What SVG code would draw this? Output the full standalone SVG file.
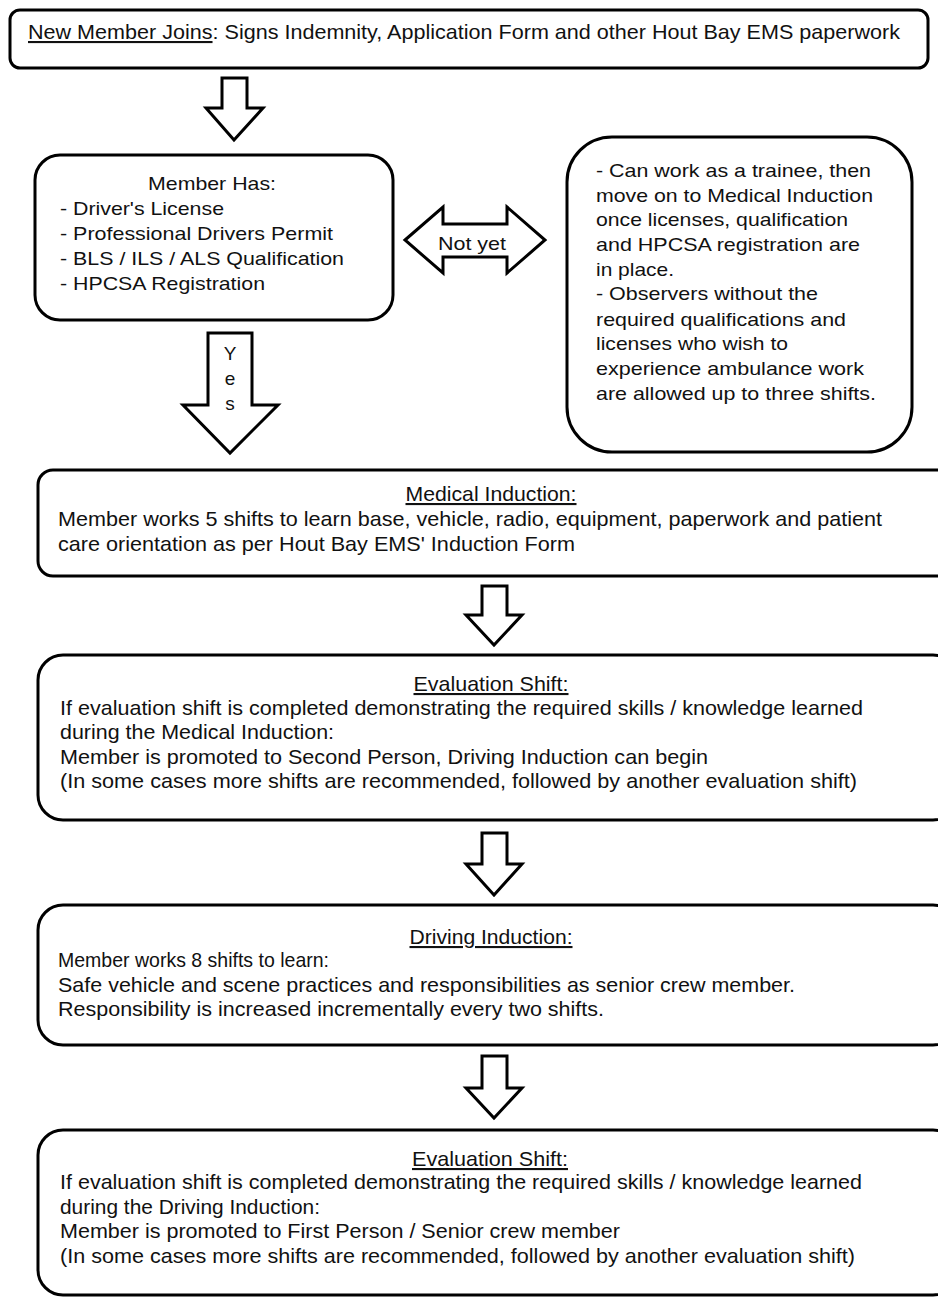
<svg xmlns="http://www.w3.org/2000/svg" width="938" height="1298" viewBox="0 0 938 1298">
<style>
.box{fill:#fff;stroke:#000;stroke-width:3}
.arr{fill:#fff;stroke:#000;stroke-width:3;stroke-linejoin:miter}
text{font-family:"Liberation Sans",Arial,sans-serif;font-size:19px;fill:#111}
.n{font-size:21px}
.u{text-decoration:underline}
</style>
<rect width="938" height="1298" fill="#fff"/>
<g id="connectors">
<polygon class="arr" points="222,78 247,78 247,108 263,108 234,140 206,108 222,108"/>
<polygon class="arr" points="405,240 443,207 443,224 507,224 507,207 545,240 507,273 507,257 443,257 443,273"/>
<text x="472" y="250" text-anchor="middle" textLength="68" lengthAdjust="spacingAndGlyphs">Not yet</text>
<polygon class="arr" points="208,333 252,333 252,405 278,405 230,453 183,405 208,405"/>
<text x="230" y="360" text-anchor="middle">Y</text>
<text x="230" y="385" text-anchor="middle">e</text>
<text x="230" y="410" text-anchor="middle">s</text>
<polygon class="arr" points="482,586 507,586 507,615 522,615 494,645 466,615 482,615"/>
<polygon class="arr" points="482,833 507,833 507,864 522,864 494,895 466,864 482,864"/>
<polygon class="arr" points="482,1056 507,1056 507,1088 522,1088 494,1118 466,1088 482,1088"/>
</g>
<g id="n1">
<rect class="box" x="10" y="10" width="918" height="58" rx="10"/>
<text class="n" x="28" y="39" textLength="872" lengthAdjust="spacingAndGlyphs"><tspan class="u">New Member Joins</tspan>: Signs Indemnity, Application Form and other Hout Bay EMS paperwork</text>
</g>
<g id="n2">
<rect class="box" x="35" y="155" width="358" height="165" rx="25"/>
<text x="212" y="190" text-anchor="middle" textLength="128" lengthAdjust="spacingAndGlyphs">Member Has:</text>
<text x="60" y="215" textLength="164" lengthAdjust="spacingAndGlyphs">- Driver's  License</text>
<text x="60" y="240" textLength="273" lengthAdjust="spacingAndGlyphs">- Professional  Drivers  Permit</text>
<text x="60" y="265" textLength="284" lengthAdjust="spacingAndGlyphs">- BLS / ILS / ALS Qualification</text>
<text x="60" y="290" textLength="205" lengthAdjust="spacingAndGlyphs">- HPCSA Registration</text>
</g>
<g id="n3">
<rect class="box" x="567" y="137" width="345" height="315" rx="45"/>
<text x="596" y="177" textLength="275" lengthAdjust="spacingAndGlyphs">- Can work as a trainee, then</text>
<text x="596" y="202" textLength="277" lengthAdjust="spacingAndGlyphs">move  on to Medical Induction</text>
<text x="596" y="226" textLength="252" lengthAdjust="spacingAndGlyphs">once licenses, qualification</text>
<text x="596" y="251" textLength="264" lengthAdjust="spacingAndGlyphs">and HPCSA registration are</text>
<text x="596" y="276" textLength="78" lengthAdjust="spacingAndGlyphs">in place.</text>
<text x="596" y="300" textLength="222" lengthAdjust="spacingAndGlyphs">- Observers  without the</text>
<text x="596" y="326" textLength="250" lengthAdjust="spacingAndGlyphs">required  qualifications and</text>
<text x="596" y="350" textLength="192" lengthAdjust="spacingAndGlyphs">licenses who wish to</text>
<text x="596" y="375" textLength="268" lengthAdjust="spacingAndGlyphs">experience  ambulance  work</text>
<text x="596" y="400" textLength="280" lengthAdjust="spacingAndGlyphs">are allowed  up to three shifts.</text>
</g>
<g id="n4">
<rect class="box" x="38" y="470" width="920" height="106" rx="15"/>
<text x="491" y="501" text-anchor="middle" class="n u" textLength="171" lengthAdjust="spacingAndGlyphs">Medical Induction:</text>
<text class="n" x="58" y="526" textLength="824" lengthAdjust="spacingAndGlyphs">Member works 5 shifts to learn base, vehicle, radio, equipment, paperwork and patient</text>
<text class="n" x="58" y="551" textLength="517" lengthAdjust="spacingAndGlyphs">care orientation as per Hout Bay EMS' Induction Form</text>
</g>
<g id="n5">
<rect class="box" x="38" y="655" width="920" height="165" rx="25"/>
<text x="491" y="691" text-anchor="middle" class="n u" textLength="155" lengthAdjust="spacingAndGlyphs">Evaluation  Shift:</text>
<text class="n" x="60" y="715" textLength="803" lengthAdjust="spacingAndGlyphs">If evaluation  shift is completed demonstrating the required skills / knowledge  learned</text>
<text class="n" x="60" y="739" textLength="274" lengthAdjust="spacingAndGlyphs">during the Medical Induction:</text>
<text class="n" x="60" y="764" textLength="648" lengthAdjust="spacingAndGlyphs">Member is promoted to Second Person, Driving  Induction can begin</text>
<text class="n" x="60" y="788" textLength="797" lengthAdjust="spacingAndGlyphs">(In some cases more shifts are recommended,  followed by another evaluation  shift)</text>
</g>
<g id="n6">
<rect class="box" x="38" y="905" width="920" height="140" rx="25"/>
<text x="491" y="944" text-anchor="middle" class="n u" textLength="163" lengthAdjust="spacingAndGlyphs">Driving  Induction:</text>
<text class="n" x="58" y="967" textLength="271" lengthAdjust="spacingAndGlyphs">Member works 8 shifts to learn:</text>
<text class="n" x="58" y="992" textLength="737" lengthAdjust="spacingAndGlyphs">Safe vehicle and scene practices and responsibilities as senior crew member.</text>
<text class="n" x="58" y="1016" textLength="546" lengthAdjust="spacingAndGlyphs">Responsibility is increased incrementally every two shifts.</text>
</g>
<g id="n7">
<rect class="box" x="38" y="1130" width="920" height="165" rx="25"/>
<text x="490" y="1166" text-anchor="middle" class="n u" textLength="156" lengthAdjust="spacingAndGlyphs">Evaluation  Shift:</text>
<text class="n" x="60" y="1189" textLength="802" lengthAdjust="spacingAndGlyphs">If evaluation  shift is completed demonstrating the required skills / knowledge  learned</text>
<text class="n" x="60" y="1214" textLength="260" lengthAdjust="spacingAndGlyphs">during the Driving Induction:</text>
<text class="n" x="60" y="1238" textLength="560" lengthAdjust="spacingAndGlyphs">Member is promoted to First Person / Senior crew member</text>
<text class="n" x="60" y="1263" textLength="795" lengthAdjust="spacingAndGlyphs">(In some cases more shifts are recommended,  followed by another evaluation  shift)</text>
</g>
</svg>
